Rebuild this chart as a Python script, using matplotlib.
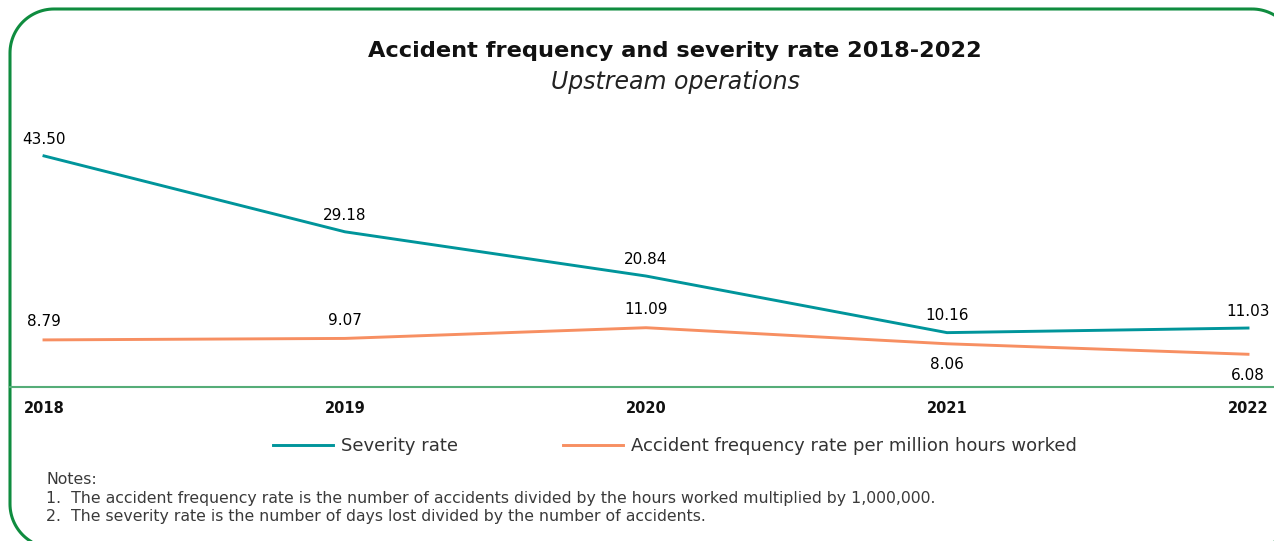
import numpy as np
import matplotlib.pyplot as plt
from matplotlib.patches import Polygon

years = [2018, 2019, 2020, 2021, 2022]
severity = [43.50, 29.18, 20.84, 10.16, 11.03]
frequency = [8.79, 9.07, 11.09, 8.06, 6.08]
# which frequency labels sit under the line
freq_below = [False, False, False, True, True]

W, H = 1274, 541
teal = "#00959b"
orange = "#f78f62"
green = "#0f8c3f"

fig = plt.figure(figsize=(W / 100, H / 100), dpi=100)

# rounded frame in pixel units (y measured from the top)
bg = fig.add_axes([0, 0, 1, 1])
bg.set_xlim(0, W)
bg.set_ylim(H, 0)
bg.axis("off")
left, top, right, bottom, r = 10, 9, 1296, 548, 44
t = np.linspace(0, np.pi / 2, 30)
fx = np.concatenate([right - r + r * np.sin(t), right - r + r * np.cos(t),
                     left + r - r * np.sin(t), left + r - r * np.cos(t)])
fy = np.concatenate([top + r - r * np.cos(t), bottom - r + r * np.sin(t),
                     bottom - r + r * np.cos(t), top + r - r * np.sin(t)])
bg.add_patch(Polygon(np.column_stack([fx, fy]), closed=True, fill=False,
                     edgecolor=green, linewidth=2.2, joinstyle="round",
                     clip_on=False))

ax = fig.add_axes([10 / W, (H - 386.5) / H, (1274 - 10) / W, (386.5 - 140) / H])
ax.set_xlim(2018 - 34 / 301, 2022 + 26 / 301)
ax.set_ylim(0, 46.5)

ax.plot(years, severity, color=teal, lw=2.1, label="Severity rate")
ax.plot(years, frequency, color=orange, lw=2.1,
        label="Accident frequency rate per million hours worked")

for x, v in zip(years, severity):
    ax.annotate(f"{v:.2f}", (x, v), xytext=(0, 12), textcoords="offset points",
                ha="center", va="center", fontsize=11, color="#000")
for x, v, below in zip(years, frequency, freq_below):
    off = -15 if below else 13
    ax.annotate(f"{v:.2f}", (x, v), xytext=(0, off), textcoords="offset points",
                ha="center", va="center", fontsize=11, color="#000")

for s in ["top", "left", "right"]:
    ax.spines[s].set_visible(False)
ax.spines["bottom"].set_color("#55ad78")
ax.spines["bottom"].set_linewidth(1.5)
ax.set_yticks([])
ax.set_xticks(years)
ax.set_xticklabels([str(y) for y in years], fontsize=10.5, fontweight="bold", color="#111")
ax.tick_params(axis="x", length=0, pad=10.5)
ax.patch.set_alpha(0)

ax.legend(loc="center", bbox_to_anchor=(675 / W, 1 - 446 / H),
          bbox_transform=fig.transFigure, ncol=2, frameon=False,
          fontsize=13, handlelength=3.3, handletextpad=0.45,
          columnspacing=5.8, labelcolor="#333")

fig.text(675 / W, 1 - 51 / H, "Accident frequency and severity rate 2018-2022",
         ha="center", va="center", fontsize=16.2, fontweight="bold", color="#111")
fig.text(675 / W, 1 - 82 / H, "Upstream operations", ha="center", va="center",
         fontsize=17, style="italic", fontweight="light", color="#222")

notes = [
    "Notes:",
    "1.  The accident frequency rate is the number of accidents divided by the hours worked multiplied by 1,000,000.",
    "2.  The severity rate is the number of days lost divided by the number of accidents.",
]
for i, line in enumerate(notes):
    fig.text(46 / W, 1 - (479 + 19 * i) / H, line, ha="left", va="center",
             fontsize=11.3, color="#3a3a3a")

fig.savefig("out.png", dpi=100)
